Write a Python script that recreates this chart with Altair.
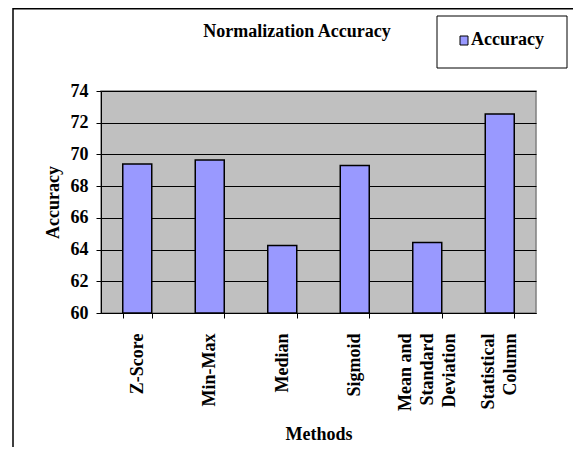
import altair as alt
import pandas as pd

methods = ["Z-Score", "Min-Max", "Median", "Sigmoid", "Mean and Standard Deviation", "Statistical Column"]
label_lines = [["Z-Score"], ["Min-Max"], ["Median"], ["Sigmoid"], ["Mean and", "Standard", "Deviation"], ["Statistical", "Column"]]
accuracy = [69.4, 69.65, 64.25, 69.3, 64.45, 72.55]
y_ticks = [60, 62, 64, 66, 68, 70, 72, 74]
series_name = "Accuracy"
title_text = "Normalization Accuracy"

FONT = "Liberation Serif"
BAR = "#9999FF"
LINE_H = 22

df = pd.DataFrame({"Methods": methods, "Accuracy": accuracy})
one = pd.DataFrame({"series": [series_name], "title": [title_text]})

# build labelExpr for multi-line labels, and offsets that center the line block
expr = "datum.label"
offset_conds = []
for m, lines in zip(methods, label_lines):
    if len(lines) > 1:
        arr = "[" + ",".join("'" + l + "'" for l in lines) + "]"
        expr = f"datum.label == '{m}' ? {arr} : ({expr})"
        offset_conds.append({"test": f"datum.value == '{m}'", "value": -(len(lines) - 1) * LINE_H / 2})

frame = alt.Chart(one).mark_rect(fillOpacity=0, stroke="black", strokeWidth=1.5).encode(
    x=alt.value(-88), x2=alt.value(700), y=alt.value(-82.25), y2=alt.value(600)
)

bars = alt.Chart(df).mark_bar(color=BAR, stroke="black", strokeWidth=1.5).encode(
    x=alt.X("Methods:N", sort=methods,
            scale=alt.Scale(paddingInner=0.6, paddingOuter=0.3),
            axis=alt.Axis(title="Methods", labelAngle=-90, labelExpr=expr,
                          labelLineHeight=LINE_H, labelPadding=15, tickSize=5,
                          labelOffset={"condition": offset_conds, "value": 0},
                          tickBand="extent", titlePadding=15,
                          domainColor="black", tickColor="black")),
    y=alt.Y("Accuracy:Q",
            scale=alt.Scale(domain=[60, 74], nice=False, zero=False),
            axis=alt.Axis(title="Accuracy", values=y_ticks, tickSize=5,
                          labelPadding=8, titlePadding=8, grid=True,
                          gridColor="black", gridOpacity=1, gridWidth=1,
                          domainColor="black", tickColor="black")),
    y2=alt.datum(60),
)

title_mark = alt.Chart(one).mark_text(
    align="center", baseline="alphabetic", font=FONT, fontSize=18, fontWeight="bold", color="black"
).encode(text="title:N", x=alt.value(196), y=alt.value(-54))

legend_box = alt.Chart(one).mark_rect(fill="white", stroke="black", strokeWidth=1).encode(
    x=alt.value(336), x2=alt.value(466), y=alt.value(-75), y2=alt.value(-23)
)
legend_swatch = alt.Chart(one).mark_rect(fill=BAR, stroke="black", strokeWidth=1).encode(
    x=alt.value(359), x2=alt.value(367), y=alt.value(-55), y2=alt.value(-46)
)
legend_text = alt.Chart(one).mark_text(
    align="left", baseline="alphabetic", font=FONT, fontSize=18, fontWeight="bold", color="black"
).encode(text="series:N", x=alt.value(370), y=alt.value(-46))

chart = alt.layer(frame, bars, title_mark, legend_box, legend_swatch, legend_text).properties(
    width=435, height=222,
    autosize=alt.AutoSizeParams(type="none"),
    padding={"left": 93, "top": 83, "right": 37, "bottom": 134},
    background="white",
).configure_view(
    fill="#C0C0C0", stroke="#808080", strokeWidth=1.5
).configure_axis(
    labelFont=FONT, labelFontSize=18, labelFontWeight="bold", labelColor="black",
    titleFont=FONT, titleFontSize=18, titleFontWeight="bold", titleColor="black",
)

chart.save("out.html", embed_options={"renderer": "svg", "actions": False})
